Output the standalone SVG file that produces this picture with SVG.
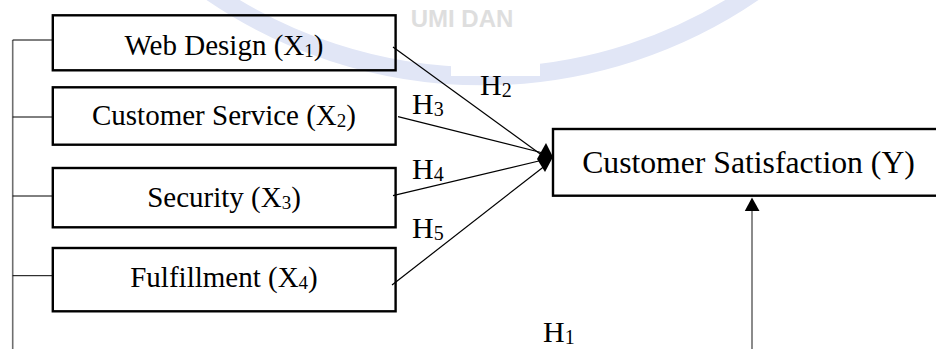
<svg xmlns="http://www.w3.org/2000/svg" width="936" height="349" viewBox="0 0 936 349">
<style>
.box{fill:none;stroke:#000;stroke-width:2.4}
.lbl{font-family:"Liberation Serif","Times New Roman",serif;font-size:29px;fill:#000;text-anchor:middle}
.sub{font-size:19px}
.h{font-family:"Liberation Serif","Times New Roman",serif;font-size:30px;fill:#000}
.hs{font-size:20px}
.conn{stroke:#000;stroke-width:1.2;fill:none}
.gray{stroke:#6e6e6e;stroke-width:1.6;fill:none}
.tie{stroke:#000;stroke-width:1;fill:none}
</style>
<g id="watermark">
<path d="M 205 -12 A 480 480 0 0 0 760 -12" fill="none" stroke="#e1e6f6" stroke-width="18"/>
<text x="462" y="27" font-family="Liberation Sans, Arial, sans-serif" font-weight="bold" font-size="24" fill="#dedede" text-anchor="middle">UMI DAN</text>
<rect x="451" y="57" width="89" height="19" fill="#fff"/>
</g>
<g id="connectors">
<line class="gray" x1="12.7" y1="40" x2="12.7" y2="349"/>
<line class="tie" x1="12.7" y1="40" x2="52" y2="40"/>
<line class="tie" x1="12.7" y1="117" x2="52" y2="117"/>
<line class="tie" x1="12.7" y1="196" x2="52" y2="196"/>
<line class="tie" x1="12.7" y1="275.7" x2="52" y2="275.7"/>
<line class="conn" x1="393" y1="47" x2="543" y2="156"/>
<line class="conn" x1="398" y1="116.7" x2="543" y2="153"/>
<line class="conn" x1="393" y1="195.7" x2="543" y2="160"/>
<line class="conn" x1="392" y1="285" x2="546" y2="165"/>
<polygon points="546,143 553,157 545,172 537,159" fill="#000"/>
<line class="gray" x1="752" y1="349" x2="752" y2="209"/>
<polygon points="752,197.5 744.8,211 759.5,211" fill="#000"/>
</g>
<g id="h-labels">
<text class="h" x="480" y="95">H<tspan class="hs" dy="2">2</tspan></text>
<text class="h" x="412" y="114.3">H<tspan class="hs" dy="2">3</tspan></text>
<text class="h" x="412" y="179.3">H<tspan class="hs" dy="2">4</tspan></text>
<text class="h" x="412" y="238.3">H<tspan class="hs" dy="2">5</tspan></text>
<text class="h" x="543" y="341.7">H<tspan class="hs" dy="2">1</tspan></text>
</g>
<g id="web-design">
<rect class="box" x="52.8" y="15.3" width="342.8" height="55"/>
<text class="lbl" x="224" y="54.5">Web Design (X<tspan class="sub" dy="2">1</tspan><tspan dy="-2">)</tspan></text>
</g>
<g id="customer-service">
<rect class="box" x="52.8" y="87.3" width="342.8" height="57.4"/>
<text class="lbl" x="224" y="125">Customer Service (X<tspan class="sub" dy="2">2</tspan><tspan dy="-2">)</tspan></text>
</g>
<g id="security">
<rect class="box" x="52.8" y="168" width="342.8" height="59.3"/>
<text class="lbl" x="224" y="207.3">Security (X<tspan class="sub" dy="2">3</tspan><tspan dy="-2">)</tspan></text>
</g>
<g id="fulfillment">
<rect class="box" x="52.8" y="248" width="342.8" height="63.3"/>
<text class="lbl" x="224" y="286.7">Fulfillment (X<tspan class="sub" dy="2">4</tspan><tspan dy="-2">)</tspan></text>
</g>
<g id="customer-satisfaction">
<rect class="box" x="553" y="129" width="400" height="66.7"/>
<text x="748.5" y="173" font-family="Liberation Serif, Times New Roman, serif" font-size="31.7" fill="#000" text-anchor="middle">Customer Satisfaction (Y)</text>
</g>
</svg>
